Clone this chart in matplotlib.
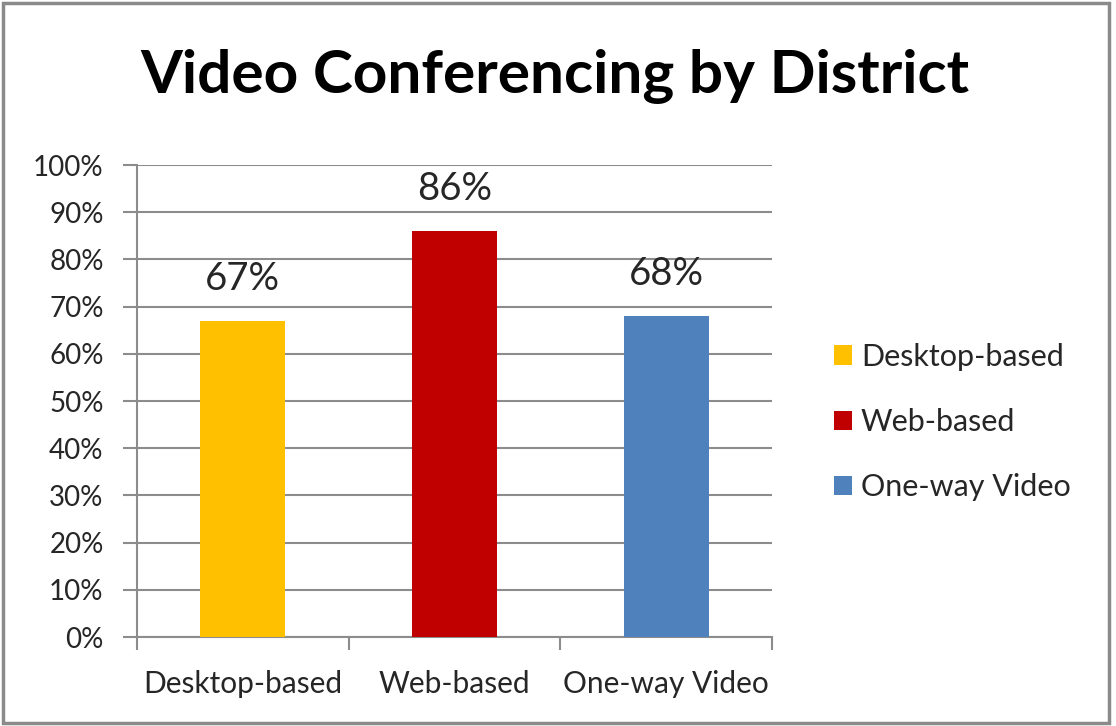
import matplotlib
matplotlib.use("Agg")
import matplotlib.pyplot as plt
from matplotlib.patches import Rectangle, Patch
from matplotlib.ticker import FixedLocator, FuncFormatter

categories = ["Desktop-based", "Web-based", "One-way Video"]
values = [67, 86, 68]
colors = ["#FFC000", "#C00000", "#4F81BD"]
y_ticks = list(range(0, 101, 10))

plt.rcParams["font.family"] = ["Lato", "DejaVu Sans"]

fig = plt.figure(figsize=(11.16, 7.26), dpi=100)
fig.patch.set_facecolor("white")

ax = fig.add_axes([137 / 1116, 1 - 637 / 726, 635 / 1116, 472 / 726])
x = list(range(len(categories)))
bars = ax.bar(x, values, width=0.4, color=colors, zorder=3)

for xi, v in zip(x, values):
    ax.text(xi, v + 5, f"{v}%", ha="center", va="bottom", fontsize=27.5, color="#262626")

ax.set_xlim(-0.5, len(categories) - 0.5)
ax.set_ylim(0, 100)
ax.set_yticks(y_ticks)
ax.yaxis.set_major_formatter(FuncFormatter(lambda v, _: f"{int(v)}%"))
ax.grid(axis="y", color="#8c8c8c", linewidth=1.5, zorder=0)

ax.set_xticks(x)
ax.set_xticklabels(categories)
ax.xaxis.set_minor_locator(FixedLocator([i - 0.5 for i in range(len(categories) + 1)]))
ax.tick_params(axis="x", which="major", length=0, pad=24, labelsize=21.5, labelcolor="#262626")
ax.tick_params(axis="x", which="minor", length=9, width=1.5, color="#8c8c8c")
ax.tick_params(axis="y", length=10, width=1.5, color="#8c8c8c", labelsize=20, labelcolor="#262626", pad=14)

for s in ["top", "right"]:
    ax.spines[s].set_visible(False)
for s in ["left", "bottom"]:
    ax.spines[s].set_color("#8c8c8c")
    ax.spines[s].set_linewidth(1.5)

fig.text(555 / 1116, 1 - 77 / 726, "Video Conferencing by District", ha="center", va="center",
         fontsize=43.5, fontweight="bold", color="black")

handles = [Patch(facecolor=c, edgecolor="none") for c in colors]
fig.legend(handles, categories, loc="center left", bbox_to_anchor=(806 / 1116, 1 - 422 / 726),
           frameon=False, fontsize=22, handlelength=0.6, handleheight=0.6, handletextpad=0.3,
           labelspacing=1.22, labelcolor="#262626")

fig.add_artist(Rectangle((3 / 1116, 3 / 726), 1106 / 1116, 720 / 726, transform=fig.transFigure,
                         fill=False, edgecolor="#8a8a8a", linewidth=2.5))

fig.savefig("out.png", dpi=100)
